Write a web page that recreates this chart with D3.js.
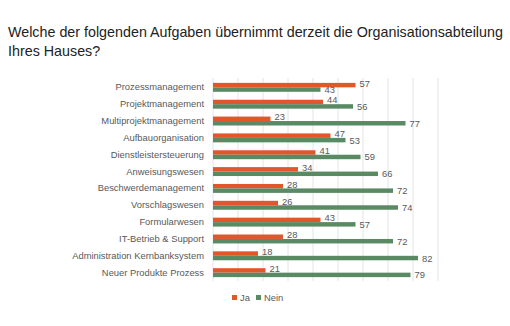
<!DOCTYPE html>
<html>
<head>
<meta charset="utf-8">
<script src="https://cdn.jsdelivr.net/npm/d3@7"></script>
<style>
  body { margin: 0; background: #fff; }
  text { font-family: "Liberation Sans", Arial, sans-serif; }
</style>
</head>
<body>
<div class="plot"></div>
<script>
// Data
const categories = [
    "Prozessmanagement", "Projektmanagement", "Multiprojektmanagement",
    "Aufbauorganisation", "Dienstleistersteuerung", "Anweisungswesen",
    "Beschwerdemanagement", "Vorschlagswesen", "Formularwesen",
    "IT-Betrieb & Support", "Administration Kernbanksystem", "Neuer Produkte Prozess"
];
const ja   = [57, 44, 23, 47, 41, 34, 28, 26, 43, 28, 18, 21];
const nein = [43, 56, 77, 53, 59, 66, 72, 74, 57, 72, 82, 79];
const seriesNames = ["Ja", "Nein"];
const xTicks = [0, 10, 20, 30, 40, 50, 60, 70, 80, 90];

const colors = {Ja: "#e2562c", Nein: "#5a8a64"};
const width = 510, height = 326;

const svg = d3.select(".plot")
    .append("svg")
        .attr("width", width)
        .attr("height", height);

// Title
svg.append("text")
    .attr("x", 8)
    .attr("y", 37)
    .style("font-size", "14.3px")
    .style("fill", "#222")
    .text("Welche der folgenden Aufgaben übernimmt derzeit die Organisationsabteilung");
svg.append("text")
    .attr("x", 8)
    .attr("y", 56)
    .style("font-size", "14.3px")
    .style("fill", "#222")
    .text("Ihres Hauses?");

// Scales
const x = d3.scaleLinear()
    .domain([0, 90])
    .range([213, 438]);

const y = d3.scaleBand()
    .domain(categories)
    .range([79, 281])
    .paddingInner(0.47)
    .paddingOuter(0.23);

const ySub = d3.scaleBand()
    .domain(seriesNames)
    .range([0, y.bandwidth()]);

// Vertical gridlines
svg.append("g")
    .selectAll("line")
    .data(xTicks)
    .enter()
    .append("line")
        .attr("x1", d => x(d))
        .attr("x2", d => x(d))
        .attr("y1", 78)
        .attr("y2", 281)
        .style("stroke", "#e4e4e4")
        .style("stroke-width", 1);

// Category labels
svg.append("g")
    .attr("transform", "translate(204,0)")
    .call(d3.axisLeft(y).tickSize(0).tickPadding(0))
    .call(g => g.select(".domain").remove())
    .selectAll("text")
        .style("font-family", "Liberation Sans, Arial, sans-serif")
        .style("font-size", "9.4px")
        .style("fill", "#595959");

// Bars
const rows = categories.map((c, i) => ({cat: c, Ja: ja[i], Nein: nein[i]}));

const groups = svg.append("g")
    .selectAll("g")
    .data(rows)
    .enter()
    .append("g")
        .attr("transform", d => "translate(0," + y(d.cat) + ")");

groups.selectAll("rect")
    .data(d => seriesNames.map(s => ({key: s, value: d[s]})))
    .enter()
    .append("rect")
        .attr("x", x(0))
        .attr("y", d => ySub(d.key))
        .attr("width", d => x(d.value) - x(0))
        .attr("height", ySub.bandwidth())
        .style("fill", d => colors[d.key]);

// Value labels
groups.selectAll("text")
    .data(d => seriesNames.map(s => ({key: s, value: d[s]})))
    .enter()
    .append("text")
        .attr("x", d => x(d.value) + 4)
        .attr("y", d => ySub(d.key) + ySub.bandwidth() / 2 + (d.key === "Ja" ? 1.5 : 3.5))
        .style("font-size", "9.4px")
        .style("fill", "#595959")
        .text(d => d.value);

// Legend
const legend = svg.append("g")
    .attr("id", "legend")
    .attr("transform", "translate(232,298)");

const legendItems = legend.selectAll("g")
    .data(seriesNames)
    .enter()
    .append("g")
        .attr("transform", (d, i) => "translate(" + (i * 24) + ",0)");

legendItems.append("rect")
    .attr("x", 0)
    .attr("y", -3)
    .attr("width", 5)
    .attr("height", 5)
    .style("fill", d => colors[d]);

legendItems.append("text")
    .attr("x", 8)
    .attr("y", 3)
    .style("font-size", "9.4px")
    .style("fill", "#595959")
    .text(d => d);
</script>
</body>
</html>
